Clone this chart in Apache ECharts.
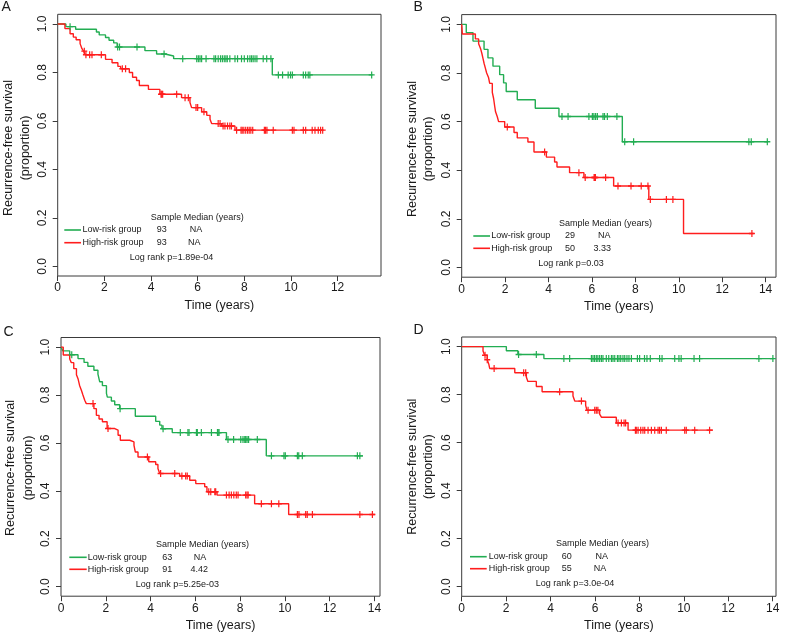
<!DOCTYPE html>
<html><head><meta charset="utf-8">
<script src="https://cdn.jsdelivr.net/npm/echarts@6/dist/echarts.min.js"></script>
<style>html,body{margin:0;padding:0;background:#fff}#c{width:787px;height:635px}</style>
</head><body><div id="c"></div>
<script>
// ---------- DATA ----------
// Panel A
const aLowT = [0, 0.35, 0.77, 1.66, 1.78, 2.05, 2.2, 2.4, 2.55, 3.74, 4.24, 4.6, 4.97, 9.2];
const aLowS = [1, 0.989, 0.978, 0.967, 0.955, 0.944, 0.933, 0.922, 0.905, 0.89, 0.876, 0.868, 0.857, 0.79];
const aLowCens = [0.53, 2.57, 2.65, 3.4, 4.56, 5.36, 5.96, 6.03, 6.1, 6.17, 6.36, 6.7, 6.77, 6.88, 6.98, 7.06, 7.14, 7.21, 7.27, 7.38, 7.6, 7.71, 7.88, 8.0, 8.14, 8.24, 8.31, 8.38, 8.46, 8.54, 8.81, 8.96, 9.14, 9.46, 9.64, 9.88, 9.98, 10.06, 10.53, 10.63, 10.74, 10.81, 13.46];
const aLowEnd = 13.5;
const aHighT = [0, 0.31, 0.53, 0.67, 0.79, 0.96, 1.04, 1.11, 1.18, 2.05, 2.33, 2.58, 2.7, 3.07, 3.21, 3.38, 3.5, 3.89, 4.38, 5.31, 5.67, 5.74, 6.17, 6.39, 6.53, 6.6, 7.03, 7.6];
const aHighS = [1, 0.981, 0.96, 0.946, 0.935, 0.919, 0.898, 0.888, 0.873, 0.854, 0.84, 0.825, 0.815, 0.80, 0.78, 0.767, 0.746, 0.73, 0.71, 0.696, 0.676, 0.655, 0.638, 0.623, 0.607, 0.589, 0.579, 0.562];
const aHighCens = [1.14, 1.21, 1.37, 1.47, 1.87, 2.77, 2.91, 4.43, 4.46, 4.5, 5.1, 5.46, 5.6, 5.93, 6.0, 6.27, 6.88, 6.96, 7.09, 7.17, 7.28, 7.38, 7.45, 7.67, 7.86, 7.91, 7.98, 8.06, 8.14, 8.21, 8.28, 8.36, 8.86, 8.91, 8.97, 9.24, 10.06, 10.13, 10.53, 10.63, 10.91, 11.03, 11.17, 11.27, 11.36];
const aHighEnd = 11.38;
// Panel B
const bLowT = [0, 0.21, 0.52, 1.03, 1.21, 1.44, 1.75, 1.93, 2.05, 2.56, 3.39, 4.48, 7.4];
const bLowS = [1, 0.966, 0.931, 0.897, 0.862, 0.828, 0.793, 0.759, 0.724, 0.69, 0.655, 0.621, 0.517];
const bLowCens = [4.62, 4.9, 5.86, 6.02, 6.09, 6.17, 6.25, 6.51, 6.58, 6.71, 7.15, 7.51, 7.92, 13.23, 13.34, 14.08];
const bLowEnd = 14.1;
const bHighT = [0, 0.03, 0.63, 0.78, 0.87, 0.93, 0.98, 1.03, 1.09, 1.15, 1.24, 1.29, 1.41, 1.47, 1.52, 1.56, 1.64, 1.70, 1.98, 2.41, 2.56, 3.05, 3.33, 3.9, 4.28, 4.39, 4.97, 5.63, 7.0, 8.62, 10.22];
const bHighS = [1, 0.96, 0.94, 0.92, 0.90, 0.88, 0.86, 0.84, 0.82, 0.80, 0.78, 0.757, 0.72, 0.695, 0.663, 0.64, 0.62, 0.60, 0.578, 0.555, 0.533, 0.516, 0.475, 0.454, 0.434, 0.413, 0.39, 0.37, 0.335, 0.28, 0.14];
const bHighCens = [2.1, 3.82, 5.4, 5.69, 6.1, 6.13, 6.16, 6.63, 7.2, 7.8, 8.27, 8.58, 8.69, 9.43, 9.73, 13.37];
const bHighEnd = 13.45;
// Panel C
const cLowT = [0, 0.08, 0.39, 0.76, 1.03, 1.2, 1.47, 1.65, 1.73, 1.85, 2.03, 2.07, 2.25, 2.4, 2.62, 3.32, 4.23, 4.41, 4.51, 4.97, 7.39, 9.17];
const cLowS = [1, 0.984, 0.968, 0.952, 0.936, 0.92, 0.903, 0.887, 0.855, 0.839, 0.807, 0.791, 0.775, 0.759, 0.743, 0.711, 0.69, 0.674, 0.659, 0.643, 0.614, 0.546];
const cLowCens = [0.48, 2.64, 4.56, 5.33, 5.67, 5.72, 6.05, 6.09, 6.27, 6.72, 6.99, 7.02, 7.06, 7.46, 7.71, 8.03, 8.13, 8.21, 8.25, 8.31, 8.38, 8.77, 9.4, 9.96, 10.02, 10.56, 10.62, 10.78, 13.24, 13.35];
const cLowEnd = 13.49;
const cHighT = [0, 0.1, 0.39, 0.46, 0.57, 0.69, 0.76, 0.83, 0.91, 0.98, 1.06, 1.13, 1.47, 1.58, 1.7, 1.85, 2.06, 2.4, 2.55, 2.65, 3.07, 3.26, 3.32, 3.44, 3.92, 4.23, 4.33, 4.41, 5.3, 5.75, 6.02, 6.42, 6.52, 6.97, 8.65, 10.17];
const cHighS = [1, 0.967, 0.95, 0.935, 0.91, 0.885, 0.868, 0.84, 0.82, 0.80, 0.778, 0.764, 0.743, 0.715, 0.70, 0.688, 0.66, 0.653, 0.632, 0.611, 0.604, 0.59, 0.562, 0.541, 0.521, 0.51, 0.493, 0.472, 0.462, 0.444, 0.43, 0.417, 0.396, 0.382, 0.346, 0.301];
const cHighCens = [1.43, 2.1, 3.86, 4.45, 5.08, 5.4, 5.57, 5.64, 6.6, 6.69, 6.87, 6.91, 7.39, 7.51, 7.61, 7.72, 7.83, 7.91, 8.25, 8.31, 8.36, 8.95, 9.4, 9.73, 10.56, 10.63, 10.93, 11.0, 11.23, 13.35, 13.91];
const cHighEnd = 14.02;
// Panel D
const dLowT = [0, 2.01, 2.53, 3.7];
const dLowS = [1, 0.983, 0.967, 0.95];
const dLowCens = [2.56, 3.36, 4.6, 4.86, 5.84, 5.91, 5.98, 6.06, 6.13, 6.21, 6.29, 6.36, 6.51, 6.62, 6.74, 6.81, 6.89, 7.01, 7.08, 7.16, 7.26, 7.34, 7.44, 7.53, 7.64, 7.91, 8.01, 8.23, 8.34, 8.49, 8.91, 9.02, 9.59, 9.78, 9.88, 10.46, 10.71, 13.38, 14.01];
const dLowEnd = 14.03;
const dHighT = [0, 0.96, 1.03, 1.15, 1.22, 1.26, 2.39, 2.91, 2.98, 3.36, 3.62, 5.01, 5.09, 5.58, 5.64, 6.21, 6.29, 6.96, 7.49];
const dHighS = [1, 0.982, 0.964, 0.945, 0.927, 0.909, 0.891, 0.873, 0.855, 0.834, 0.812, 0.794, 0.773, 0.755, 0.735, 0.719, 0.706, 0.682, 0.652];
const dHighCens = [1.05, 1.15, 1.46, 2.79, 2.88, 4.41, 5.39, 5.69, 5.99, 6.06, 6.13, 7.04, 7.19, 7.31, 7.38, 7.82, 7.86, 7.94, 8.06, 8.16, 8.24, 8.39, 8.54, 8.69, 8.84, 8.91, 8.99, 9.21, 10.04, 10.11, 10.49, 11.16];
const dHighEnd = 11.31;

// Tick labels
const xTicks12 = [0, 2, 4, 6, 8, 10, 12];
const xTicks14 = [0, 2, 4, 6, 8, 10, 12, 14];
const yTicks = [0, 0.2, 0.4, 0.6, 0.8, 1.0];

// Text
const panelLetters = ['A', 'B', 'C', 'D'];
const groupNames = ['Low-risk group', 'High-risk group'];
const sampleN = [['93', '93'], ['29', '50'], ['63', '91'], ['60', '55']];
const medians = [['NA', 'NA'], ['NA', '3.33'], ['NA', '4.42'], ['NA', 'NA']];
const logRank = ['Log rank p=1.89e-04', 'Log rank p=0.03', 'Log rank p=5.25e-03', 'Log rank p=3.0e-04'];
const xTitle = 'Time (years)';
const yTitle1 = 'Recurrence-free survival';
const yTitle2 = '(proportion)';
const legTitle = 'Sample Median (years)';

// ---------- BUILD ----------
const GREEN = '#22ad52', RED = '#ff1d1d', INK = '#1a1a1a', BOX = '#3a3a3a';
const FONT = '"Liberation Sans", Arial, Helvetica, sans-serif';

const groups = [
  [[aLowT, aLowS, aLowCens, aLowEnd], [aHighT, aHighS, aHighCens, aHighEnd]],
  [[bLowT, bLowS, bLowCens, bLowEnd], [bHighT, bHighS, bHighCens, bHighEnd]],
  [[cLowT, cLowS, cLowCens, cLowEnd], [cHighT, cHighS, cHighCens, cHighEnd]],
  [[dLowT, dLowS, dLowCens, dLowEnd], [dHighT, dHighS, dHighCens, dHighEnd]]
];

const layout = [
  { grid: {left: 57.7, top: 14.3, width: 323.3, height: 261.7}, xmax: 13.86, ticks: xTicks12,
    letter: [1.5, 7], yt: [8.3, 25.8, 148],
    leg: {title: [150.7, 217.7], lx: [64.3, 81], ly: [230, 242.7], tx: 82.5, nx: 161.7, mx: [196, 194.3], lr: [171.5, 257.3]} },
  { grid: {left: 461.7, top: 14.6, width: 314.3, height: 262.6}, xmax: 14.48, ticks: xTicks14,
    letter: [413.5, 7], yt: [412.5, 429, 149],
    leg: {title: [559, 224], lx: [473.3, 490], ly: [236, 248.3], tx: 491.2, nx: 570, mx: [604.3, 602.3], lr: [571, 264]} },
  { grid: {left: 61, top: 337.5, width: 319, height: 258.7}, xmax: 14.25, ticks: xTicks14,
    letter: [3.5, 332], yt: [10.5, 28.3, 468],
    leg: {title: [156, 544.3], lx: [69.3, 86.7], ly: [557.3, 569.3], tx: 87.8, nx: 167.2, mx: [200, 199.3], lr: [177.3, 585]} },
  { grid: {left: 461.7, top: 337, width: 314.3, height: 259.3}, xmax: 14.15, ticks: xTicks14,
    letter: [413.5, 330], yt: [412.5, 429, 466.7],
    leg: {title: [556, 543.3], lx: [470, 486.7], ly: [556.7, 568.7], tx: 488.7, nx: 566.7, mx: [601.7, 600], lr: [575, 584]} }
];

function survAt(T, S, t) {
  let s = S[0];
  for (let i = 0; i < T.length; i++) { if (T[i] <= t) s = S[i]; else break; }
  return s;
}
function curve(T, S, end) {
  const d = T.map((t, i) => [t, S[i]]);
  d.push([end, S[S.length - 1]]);
  return d;
}
const PLUS = 'path://M2.4,0H3.6V2.4H6V3.6H3.6V6H2.4V3.6H0V2.4H2.4Z';

const grid = [], xAxis = [], yAxis = [], series = [], graphic = [];
layout.forEach((L, p) => {
  grid.push(Object.assign({show: true, borderColor: BOX, borderWidth: 1, backgroundColor: 'transparent'}, L.grid));
  xAxis.push({
    gridIndex: p, type: 'value', min: 0, max: L.xmax, position: 'bottom',
    axisLine: {show: false, onZero: false},
    splitLine: {show: false},
    axisTick: {show: true, length: 5, lineStyle: {color: BOX, width: 1}, customValues: L.ticks},
    axisLabel: {customValues: L.ticks, fontSize: 12, color: INK, margin: 6, fontFamily: FONT},
    name: xTitle, nameLocation: 'middle', nameGap: 23,
    nameTextStyle: {fontSize: 12.5, color: INK, fontFamily: FONT}
  });
  yAxis.push({
    gridIndex: p, type: 'value', min: -0.04, max: 1.04,
    axisLine: {show: false, onZero: false},
    splitLine: {show: false},
    axisTick: {show: true, length: 5, lineStyle: {color: BOX, width: 1}, customValues: yTicks},
    axisLabel: {customValues: yTicks, rotate: 90, fontSize: 12, color: INK, margin: 9, fontFamily: FONT,
      formatter: v => Number(v).toFixed(1)}
  });
  groups[p].forEach((g, k) => {
    const [T, S, C, end] = g;
    const col = k === 0 ? GREEN : RED;
    series.push({
      type: 'line', xAxisIndex: p, yAxisIndex: p, step: 'end', showSymbol: false, silent: true,
      data: curve(T, S, end), lineStyle: {color: col, width: 1.4}, z: 3
    });
    series.push({
      type: 'scatter', xAxisIndex: p, yAxisIndex: p, symbol: PLUS, symbolSize: [6, 7], silent: true,
      data: C.map(t => [t, survAt(T, S, t)]), itemStyle: {color: col, opacity: 1}, z: 4
    });
  });
  graphic.push({type: 'text', x: L.letter[0], y: L.letter[1],
    style: {text: panelLetters[p], font: '14px ' + FONT, fill: INK, textAlign: 'left', textVerticalAlign: 'middle'}});
  graphic.push({type: 'text', x: L.yt[0], y: L.yt[2], rotation: Math.PI / 2,
    style: {text: yTitle1, font: '12.5px ' + FONT, fill: INK, textAlign: 'center', textVerticalAlign: 'middle'}});
  graphic.push({type: 'text', x: L.yt[1], y: L.yt[2], rotation: Math.PI / 2,
    style: {text: yTitle2, font: '12.5px ' + FONT, fill: INK, textAlign: 'center', textVerticalAlign: 'middle'}});
  const G = L.leg, lf = '9px ' + FONT;
  graphic.push({type: 'text', x: G.title[0], y: G.title[1],
    style: {text: legTitle, font: lf, fill: INK, textAlign: 'left', textVerticalAlign: 'middle'}});
  [GREEN, RED].forEach((col, k) => {
    graphic.push({type: 'line', shape: {x1: G.lx[0], y1: G.ly[k], x2: G.lx[1], y2: G.ly[k]},
      style: {stroke: col, lineWidth: 1.6}});
    graphic.push({type: 'text', x: G.tx, y: G.ly[k],
      style: {text: groupNames[k], font: lf, fill: INK, textAlign: 'left', textVerticalAlign: 'middle'}});
    graphic.push({type: 'text', x: G.nx, y: G.ly[k],
      style: {text: sampleN[p][k], font: lf, fill: INK, textAlign: 'center', textVerticalAlign: 'middle'}});
    graphic.push({type: 'text', x: G.mx[k], y: G.ly[k],
      style: {text: medians[p][k], font: lf, fill: INK, textAlign: 'center', textVerticalAlign: 'middle'}});
  });
  graphic.push({type: 'text', x: G.lr[0], y: G.lr[1],
    style: {text: logRank[p], font: lf, fill: INK, textAlign: 'center', textVerticalAlign: 'middle'}});
});

const chart = echarts.init(document.getElementById('c'), null, {renderer: 'canvas'});
chart.setOption({animation: false, backgroundColor: '#fff', grid, xAxis, yAxis, series, graphic});
</script>
</body></html>
